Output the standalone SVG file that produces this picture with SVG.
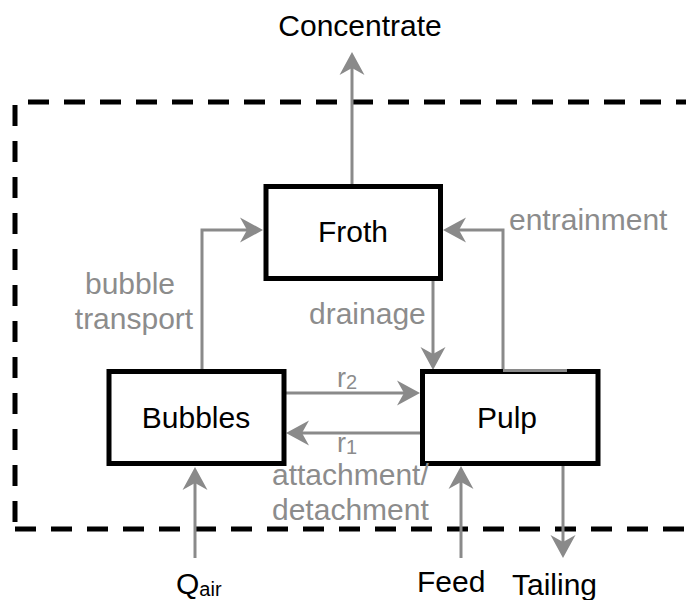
<svg xmlns="http://www.w3.org/2000/svg" width="686" height="600" viewBox="0 0 686 600">
  <style>
    .box { fill: #ffffff; stroke: #000000; stroke-width: 5; }
    .lbl { font-family: "Liberation Sans", Arial, sans-serif; font-size: 30px; fill: #000000; }
    .glbl { font-family: "Liberation Sans", Arial, sans-serif; font-size: 30px; fill: #8c8c8c; }
    .sub { font-size: 20px; }
    .flow { fill: none; stroke: #8a8a8a; stroke-width: 3; marker-end: url(#arr); }
    .dash { fill: none; stroke: #000000; stroke-width: 5; stroke-dasharray: 21 15; }
  </style>
  <defs>
    <marker id="arr" markerUnits="userSpaceOnUse" viewBox="-22 -14 28 28" markerWidth="28" markerHeight="28" refX="0" refY="0" orient="auto">
      <path d="M4,0 L-19,-12.5 L-12,0 L-19,12.5 Z" fill="#8a8a8a"/>
    </marker>
  </defs>

  <g id="boundary">
    <line class="dash" x1="28" y1="102" x2="700" y2="102"/>
    <line class="dash" x1="15" y1="105" x2="15" y2="529"/>
    <line class="dash" x1="15" y1="529" x2="700" y2="529"/>
  </g>

  <g id="connectors">
    <path class="flow" d="M352,185 L352,56"/>
    <path class="flow" d="M202,370 L202,230 L259,230"/>
    <path class="flow" d="M503,370 L503,230 L447,230"/>
    <path class="flow" d="M433,279 L433,366"/>
    <path class="flow" d="M286,393 L416,393"/>
    <path class="flow" d="M420,433 L290,433"/>
    <path class="flow" d="M195,558 L195,471"/>
    <path class="flow" d="M461,558 L461,470"/>
    <path class="flow" d="M563,466 L563,554"/>
  </g>

  <g id="froth">
    <rect class="box" x="266" y="186.5" width="174.5" height="92"/>
    <text class="lbl" x="353" y="242" text-anchor="middle">Froth</text>
  </g>
  <g id="bubbles">
    <rect class="box" x="109" y="371.5" width="175" height="92"/>
    <text class="lbl" x="196" y="428" text-anchor="middle">Bubbles</text>
  </g>
  <g id="pulp">
    <rect class="box" x="422.5" y="371.5" width="175.5" height="92"/>
    <text class="lbl" x="507" y="428" text-anchor="middle">Pulp</text>
  </g>
  <line x1="503" y1="370.5" x2="567" y2="370.5" stroke="#8a8a8a" stroke-width="3"/>

  <g id="labels">
    <text class="lbl" x="360" y="36" text-anchor="middle">Concentrate</text>
    <text class="glbl" x="130" y="294" text-anchor="middle">bubble</text>
    <text class="glbl" x="134" y="329" text-anchor="middle">transport</text>
    <text class="glbl" x="309" y="324">drainage</text>
    <text class="glbl" x="509" y="230">entrainment</text>
    <text class="glbl" x="337" y="387" style="font-size:27px">r<tspan class="sub" dy="2">2</tspan></text>
    <text class="glbl" x="337" y="452" style="font-size:27px">r<tspan class="sub" dy="2">1</tspan></text>
    <text class="glbl" x="272" y="485">attachment/</text>
    <text class="glbl" x="272" y="520">detachment</text>
    <text class="lbl" x="176" y="594">Q<tspan class="sub" dy="2">air</tspan></text>
    <text class="lbl" x="417" y="592">Feed</text>
    <text class="lbl" x="512" y="595">Tailing</text>
  </g>
</svg>
